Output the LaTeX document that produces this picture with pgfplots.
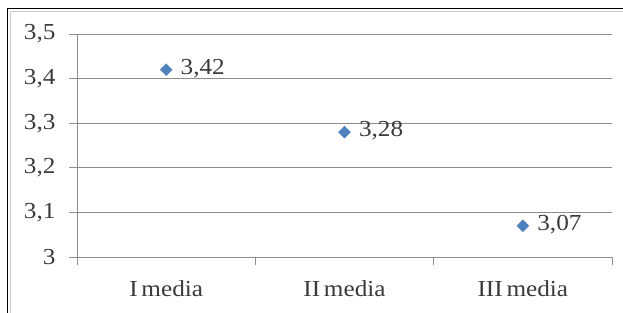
\documentclass[border=0pt]{standalone}
\usepackage{fontspec}
\setmainfont{Liberation Serif}[FakeStretch=1.1]
\usepackage{pgfplots}
\pgfplotsset{compat=1.18}
\definecolor{mkblue}{HTML}{4F81BD}
\definecolor{gridgray}{HTML}{8C8C8C}
\definecolor{txtgray}{HTML}{3A3A3A}
\begin{document}
\begin{tikzpicture}
\path[use as bounding box] (0,0) rectangle (623bp,313bp);
\draw[black, line width=1.6bp] (7.5bp,0) -- (7.5bp,304.5bp) -- (623bp,304.5bp);
\draw[gray!40, line width=1bp] (10.5bp,0) -- (10.5bp,301.5bp) -- (623bp,301.5bp);
\begin{axis}[
  at={(77bp,56bp)}, anchor=south west,
  scale only axis, width=535bp, height=223bp,
  xmin=0.5, xmax=3.5, ymin=3, ymax=3.5,
  axis x line=bottom, axis y line=left,
  axis line style={-, gridgray, line width=0.8bp},
  xtick={0.5,1.5,2.5,3.5}, xticklabels={},
  extra x ticks={1,2,3}, extra x tick labels={I\,media,II\,media,III\,media},
  extra x tick style={major tick length=0pt, tick label style={yshift=-20bp}},
  ytick={3,3.1,3.2,3.3,3.4,3.5},
  ymajorgrids, grid style={gridgray, line width=0.8bp},
  tick style={gridgray, line width=0.8bp},
  tick align=outside, major tick length=8bp,
  /pgf/number format/use comma, /pgf/number format/fixed, /pgf/number format/precision=1,
  /pgf/number format/assume math mode=true,
  tick label style={font=\fontsize{23}{27}\selectfont, text=txtgray},
  yticklabel style={xshift=-10bp},
  clip=false,
  nodes near coords={\pgfmathprintnumber[use comma,fixed,fixed zerofill,precision=2]{\pgfplotspointmeta}},
  nodes near coords style={anchor=west, xshift=11bp, yshift=1.5bp, font=\fontsize{23}{27}\selectfont, text=txtgray},
]
\addplot[only marks, mark=square*, mark size=4.2bp, mkblue, every mark/.append style={rotate=45}] coordinates {(1,3.42) (2,3.28) (3,3.07)};
\end{axis}
\end{tikzpicture}
\end{document}
